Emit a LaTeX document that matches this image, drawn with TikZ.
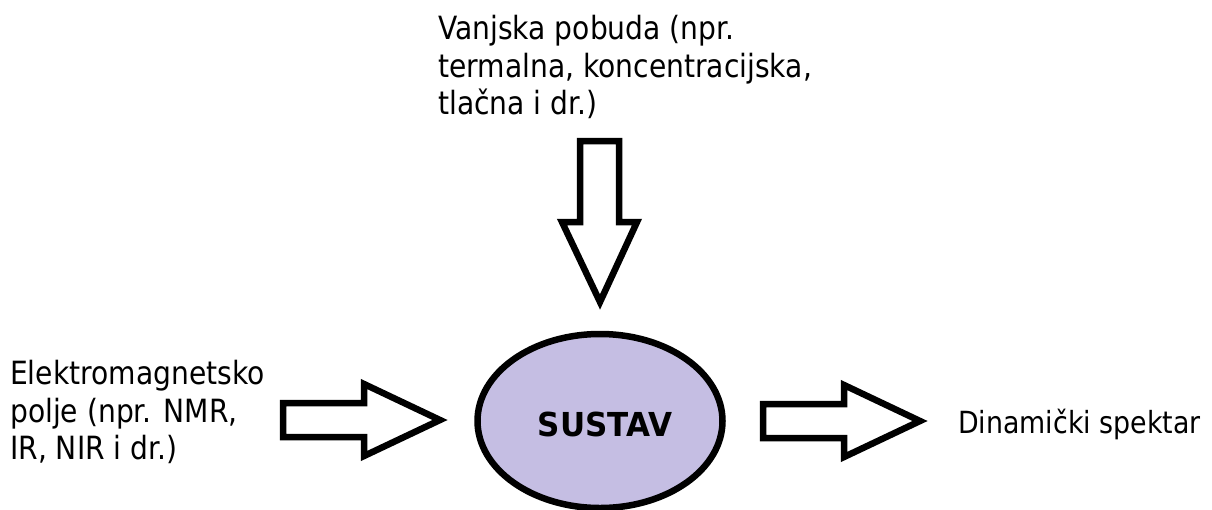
\documentclass[tikz,border=0pt]{standalone}
\usepackage{fontspec}
\setmainfont{DejaVu Sans}[FakeStretch=0.88,BoldFeatures={FakeStretch=0.94}]
\usetikzlibrary{shapes.geometric}
\definecolor{lav}{RGB}{197,190,227}
\begin{document}
\begin{tikzpicture}[x=1pt,y=-1pt,
  blockarrow/.style={draw=black,line width=6.5pt,fill=white,line join=miter},
  lbl/.style={inner sep=0pt,align=left,font=\fontsize{32}{37.5}\selectfont}]
\useasboundingbox (0,0) rectangle (1212,509);
% system
\node[draw=black,line width=6.5pt,fill=lav,ellipse,minimum width=245pt,minimum height=174pt,inner sep=0pt] (sys) at (600,421) {};
\node[font=\bfseries\fontsize{33}{38}\selectfont,inner sep=0pt] (sust) at (605,424) {SUSTAV};
% labels
\node[lbl,anchor=west] (top) at (438,67) {Vanjska pobuda (npr.\\termalna, koncentracijska,\\tla\v{c}na i dr.)};
\node[lbl,anchor=west] (left) at (10,412) {Elektromagnetsko\\polje (npr. NMR,\\IR, NIR i dr.)};
\node[lbl,anchor=base west,font=\fontsize{30.5}{36}\selectfont] (right) at (958,433) {Dinami\v{c}ki spektar};
% down arrow
\draw[blockarrow] (580,141) -- (619,141) -- (619,222) -- (637,222) -- (600,302) -- (562,222) -- (580,222) -- cycle;
% left arrow
\draw[blockarrow] (283,403) -- (364,403) -- (364,384) -- (440,420) -- (364,456) -- (364,437) -- (283,437) -- cycle;
% right arrow
\draw[blockarrow] (763,404) -- (844,404) -- (844,385) -- (920,421) -- (844,457) -- (844,438) -- (763,438) -- cycle;
\end{tikzpicture}
\end{document}
